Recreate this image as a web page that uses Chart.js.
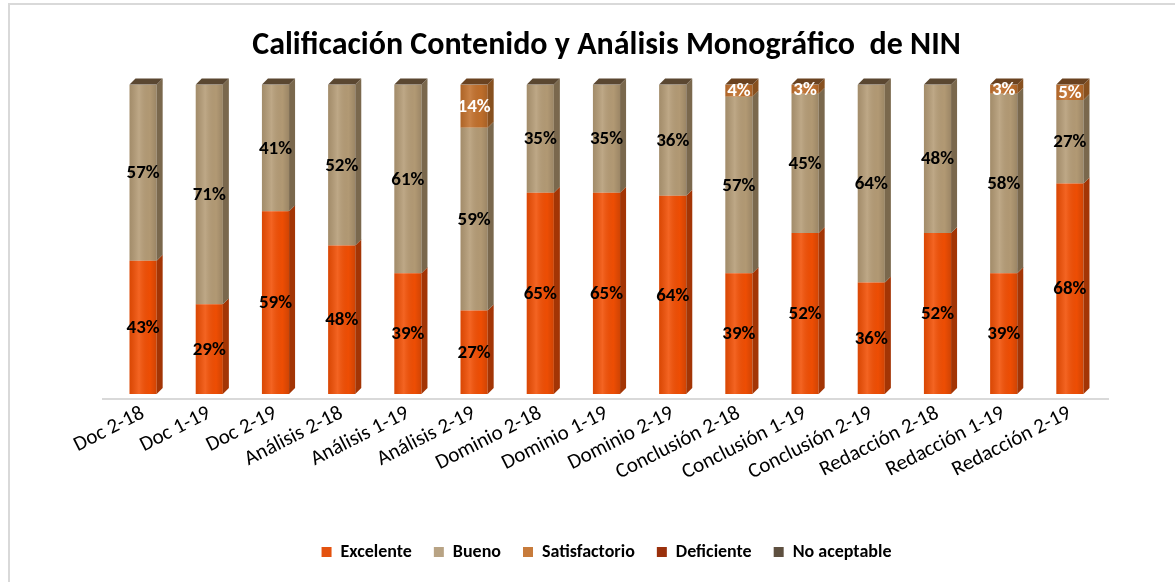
<!DOCTYPE html>
<html>
<head>
<meta charset="utf-8">
<title>Calificación Contenido y Análisis Monográfico de NIN</title>
<script src="https://cdn.jsdelivr.net/npm/chart.js@4.4.1/dist/chart.umd.min.js"></script>
<style>
  html, body { margin: 0; padding: 0; background: #fff; overflow: hidden; }
  #frame {
    position: absolute; left: 8px; top: 3px; width: 1220px; height: 640px;
    border: 2px solid #d9d9d9;
  }
  #wrap { position: absolute; left: 0; top: 0; width: 1175px; height: 582px; }
</style>
</head>
<body>
<div id="frame"></div>
<div id="wrap"><canvas id="grades" width="1175" height="582"></canvas></div>
<script>
var categories = [
  'Doc 2-18', 'Doc 1-19', 'Doc 2-19',
  'Análisis 2-18', 'Análisis 1-19', 'Análisis 2-19',
  'Dominio 2-18', 'Dominio 1-19', 'Dominio 2-19',
  'Conclusión 2-18', 'Conclusión 1-19', 'Conclusión 2-19',
  'Redacción 2-18', 'Redacción 1-19', 'Redacción 2-19'
];
var excelente     = [43, 29, 59, 48, 39, 27, 65, 65, 64, 39, 52, 36, 52, 39, 68];
var bueno         = [57, 71, 41, 52, 61, 59, 35, 35, 36, 57, 45, 64, 48, 58, 27];
var satisfactorio = [0, 0, 0, 0, 0, 14, 0, 0, 0, 4, 3, 0, 0, 3, 5];
var deficiente    = [0, 0, 0, 0, 0, 0, 0, 0, 0, 0, 0, 0, 0, 0, 0];
var noAceptable   = [0, 0, 0, 0, 0, 0, 0, 0, 0, 0, 0, 0, 0, 0, 0];

var FONT = "Carlito, Lato, 'Open Sans', sans-serif";

// front, side, top and label colour per series
var styles = [
  { front: '#f24f04', side: '#a33505', top: '#7a2c08', legend: '#e4520f', text: '#000' },
  { front: '#b59c76', side: '#7a684d', top: '#5a4731', legend: '#b8a384', text: '#000' },
  { front: '#c2702c', side: '#87501f', top: '#6a4220', legend: '#c77b3b', text: '#fff' },
  { front: '#9c2f0c', side: '#6a1f07', top: '#4e1805', legend: '#9a300c', text: '#fff' },
  { front: '#5f5141', side: '#40362b', top: '#30281f', legend: '#5e5040', text: '#fff' }
];

var DEPTH = 6;

// side faces, top caps, floor line and percentage labels
var columns3d = {
  id: 'columns3d',
  beforeDatasetsDraw: function (chart) {
    var ctx = chart.ctx;
    var area = chart.chartArea;
    ctx.save();
    ctx.strokeStyle = '#d9d9d9';
    ctx.lineWidth = 2;
    ctx.beginPath();
    ctx.moveTo(area.left - 8, area.bottom + 5);
    ctx.lineTo(area.right + 6, area.bottom + 5);
    ctx.stroke();
    ctx.restore();
  },
  afterDatasetsDraw: function (chart) {
    var ctx = chart.ctx;
    var n = chart.data.labels.length;
    ctx.save();
    for (var d = 0; d < chart.data.datasets.length; ++d) {
      var meta = chart.getDatasetMeta(d);
      var st = styles[d];
      for (var i = 0; i < n; ++i) {
        if (!chart.data.datasets[d].data[i]) {
          continue;
        }
        var bar = meta.data[i];
        var l = bar.x - bar.width / 2;
        var r = bar.x + bar.width / 2;
        // shading across the front face
        var g = ctx.createLinearGradient(l, 0, r, 0);
        g.addColorStop(0, 'rgba(0,0,0,0.10)');
        g.addColorStop(0.35, 'rgba(255,255,255,0.12)');
        g.addColorStop(0.75, 'rgba(0,0,0,0.02)');
        g.addColorStop(1, 'rgba(0,0,0,0.14)');
        ctx.fillStyle = g;
        ctx.fillRect(l, bar.y, bar.width, bar.base - bar.y);
        // side face
        ctx.fillStyle = st.side;
        ctx.beginPath();
        ctx.moveTo(r, bar.y);
        ctx.lineTo(r + DEPTH, bar.y - DEPTH);
        ctx.lineTo(r + DEPTH, bar.base - DEPTH);
        ctx.lineTo(r, bar.base);
        ctx.closePath();
        ctx.fill();
      }
    }
    // top cap on the highest non empty segment
    for (var i = 0; i < n; ++i) {
      var topIdx = -1;
      for (var d = 0; d < chart.data.datasets.length; ++d) {
        if (chart.data.datasets[d].data[i]) {
          topIdx = d;
        }
      }
      if (topIdx < 0) {
        continue;
      }
      var bar = chart.getDatasetMeta(topIdx).data[i];
      var l = bar.x - bar.width / 2;
      var r = bar.x + bar.width / 2;
      ctx.fillStyle = styles[topIdx].top;
      ctx.beginPath();
      ctx.moveTo(l, bar.y);
      ctx.lineTo(l + DEPTH, bar.y - DEPTH);
      ctx.lineTo(r + DEPTH, bar.y - DEPTH);
      ctx.lineTo(r, bar.y);
      ctx.closePath();
      ctx.fill();
    }
    // value labels
    ctx.font = 'bold 19px ' + FONT;
    ctx.textAlign = 'center';
    ctx.textBaseline = 'middle';
    for (var d = 0; d < chart.data.datasets.length; ++d) {
      var meta = chart.getDatasetMeta(d);
      for (var i = 0; i < n; ++i) {
        var v = chart.data.datasets[d].data[i];
        if (!v) {
          continue;
        }
        var bar = meta.data[i];
        ctx.fillStyle = styles[d].text;
        ctx.fillText(v + '%', bar.x, (bar.y + bar.base) / 2 + 1);
      }
    }
    ctx.restore();
  }
};

function series(label, values, idx) {
  return {
    label: label,
    data: values,
    backgroundColor: styles[idx].front,
    borderWidth: 0,
    barPercentage: 0.41,
    categoryPercentage: 1
  };
}

var chart = new Chart(document.getElementById('grades').getContext('2d'), {
  type: 'bar',
  data: {
    labels: categories,
    datasets: [
      series('Excelente', excelente, 0),
      series('Bueno', bueno, 1),
      series('Satisfactorio', satisfactorio, 2),
      series('Deficiente', deficiente, 3),
      series('No aceptable', noAceptable, 4)
    ]
  },
  options: {
    responsive: false,
    animation: false,
    layout: {
      padding: { left: 110, right: 72, top: 0, bottom: 11 }
    },
    plugins: {
      title: {
        display: true,
        text: 'Calificación Contenido y Análisis Monográfico  de NIN',
        color: '#000',
        font: { family: FONT, size: 32, weight: 'bold' },
        padding: { top: 27, bottom: 19 }
      },
      legend: {
        position: 'bottom',
        labels: {
          color: '#000',
          font: { family: FONT, size: 18, weight: 'bold' },
          boxWidth: 10,
          boxHeight: 10,
          padding: 22,
          generateLabels: function (chart) {
            return chart.data.datasets.map(function (ds, i) {
              return {
                text: ds.label,
                fillStyle: styles[i].legend,
                strokeStyle: styles[i].legend,
                lineWidth: 0,
                fontColor: '#000',
                datasetIndex: i
              };
            });
          }
        }
      },
      tooltip: { enabled: false }
    },
    scales: {
      x: {
        stacked: true,
        grid: { display: false, drawTicks: false },
        border: { display: false },
        ticks: {
          color: '#000',
          font: { family: FONT, size: 21 },
          minRotation: 27,
          maxRotation: 27,
          padding: 7,
          autoSkip: false
        },
        afterFit: function (scale) {
          scale.height = 127;
        }
      },
      y: {
        stacked: true,
        display: false,
        min: 0,
        max: 100
      }
    }
  },
  plugins: [columns3d]
});
</script>
</body>
</html>
